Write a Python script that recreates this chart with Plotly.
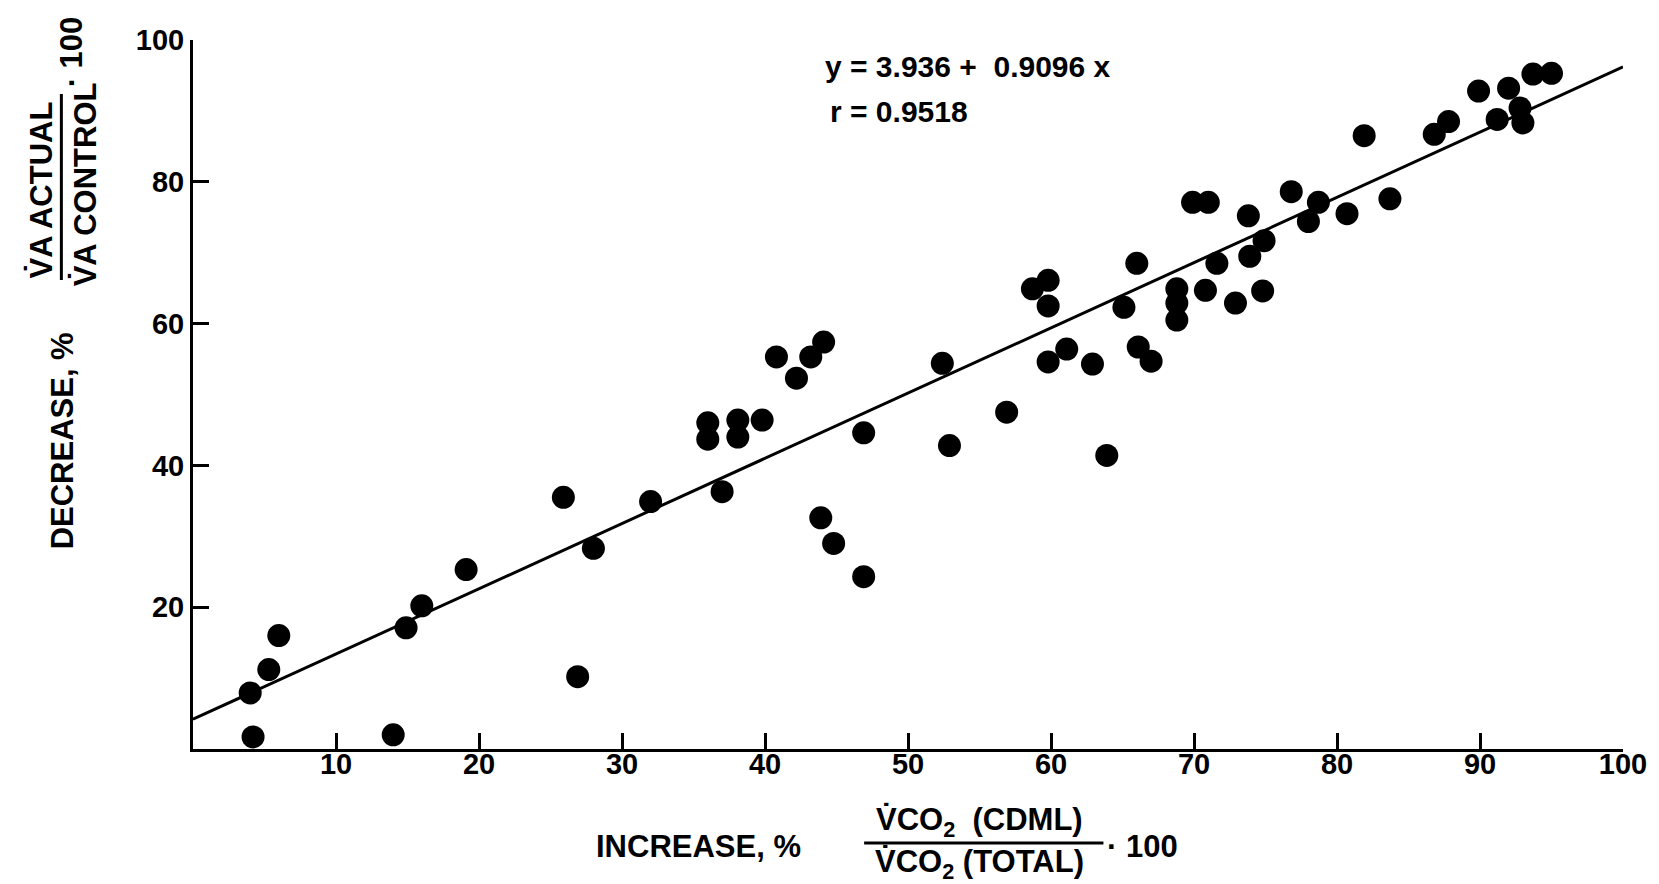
import plotly.graph_objects as go

# ---- data ----
x_increase = [4.0, 4.2, 5.3, 6.0, 14.0, 14.9, 16.0, 19.1, 25.9, 26.9,
              28.0, 32.0, 36.0, 36.0, 37.0, 38.1, 38.1, 39.8, 40.8, 42.2,
              43.2, 44.1, 43.9, 44.8, 46.9, 46.9, 52.4, 52.9, 56.9, 58.7,
              59.8, 59.8, 59.8, 61.1, 62.9, 63.9, 65.1, 66.0, 66.1, 67.0,
              68.8, 68.8, 68.8, 69.9, 71.0, 70.8, 71.6, 72.9, 73.8, 73.9,
              74.9, 74.8, 76.8, 78.0, 78.7, 80.7, 81.9, 83.7, 86.8, 87.8,
              89.9, 91.2, 92.0, 92.8, 93.0, 93.7, 95.0]
y_decrease = [7.9, 1.7, 11.2, 16.0, 2.0, 17.1, 20.2, 25.3, 35.5, 10.2,
              28.3, 34.9, 46.0, 43.7, 36.3, 46.4, 44.0, 46.4, 55.3, 52.3,
              55.3, 57.4, 32.6, 29.0, 44.6, 24.3, 54.4, 42.8, 47.5, 64.9,
              66.1, 62.5, 54.6, 56.4, 54.3, 41.4, 62.3, 68.5, 56.7, 54.7,
              64.9, 62.9, 60.5, 77.1, 77.1, 64.7, 68.5, 62.9, 75.2, 69.5,
              71.7, 64.6, 78.6, 74.4, 77.1, 75.5, 86.5, 77.6, 86.7, 88.5,
              92.8, 88.8, 93.2, 90.4, 88.3, 95.2, 95.3]
intercept = "3.936"
slope = "0.9096"
r_value = "0.9518"
x_ticks = [10, 20, 30, 40, 50, 60, 70, 80, 90, 100]
y_ticks = [20, 40, 60, 80, 100]
# fitted line as drawn in the reference (end points)
line_x = [0, 100]
line_y = [4.2, 96.2]

# ---- layout geometry ----
# the page body has an 8px margin, so the figure starts at (8, 8)
OFF = 8
W, H = 1659 - OFF, 884 - OFF
PLOT_L, PLOT_R, PLOT_T, PLOT_B = 193, 1627, 40, 749  # page pixels
L = PLOT_L - OFF
T = PLOT_T - OFF
R = W - (PLOT_R - OFF)
B = H - (PLOT_B - OFF)


def px(xp):
    return (xp - PLOT_L) / (PLOT_R - PLOT_L)


def py(yp):
    return (PLOT_B - yp) / (PLOT_B - PLOT_T)


FONT = "Liberation Sans, Arial, Helvetica, sans-serif"
TXT = dict(family=FONT, size=31, color="black", weight="bold")
EQ = dict(family=FONT, size=30, color="black", weight="bold")
TICK = dict(family=FONT, size=29, color="black", weight="bold")

fig = go.Figure()
fig.add_trace(go.Scatter(x=line_x, y=line_y, mode="lines",
                         line=dict(color="black", width=3),
                         hoverinfo="skip", showlegend=False, cliponaxis=False))
fig.add_trace(go.Scatter(x=x_increase, y=y_decrease, mode="markers",
                         marker=dict(color="black", size=23),
                         showlegend=False, cliponaxis=False))

axis_common = dict(showline=True, linecolor="black", linewidth=3,
                   ticks="inside", tickcolor="black", tickwidth=3, ticklen=16,
                   showgrid=False, zeroline=False, tickfont=TICK)

fig.update_layout(
    width=W, height=H,
    margin=dict(l=L, r=R, t=T, b=B, pad=0),
    paper_bgcolor="white", plot_bgcolor="white",
    xaxis=dict(range=[0, 100], tickvals=x_ticks, ticklabelstandoff=-13,
               **axis_common),
    yaxis=dict(range=[0, 100], tickvals=y_ticks, **axis_common),
    showlegend=False,
)

ann = []
# equation
ann.append(dict(x=px(825), y=py(66), xref="paper", yref="paper",
                text=f"y = {intercept} +  {slope} x", showarrow=False,
                xanchor="left", yanchor="middle", font=EQ))
ann.append(dict(x=px(830), y=py(112), xref="paper", yref="paper",
                text=f"r = {r_value}", showarrow=False,
                xanchor="left", yanchor="middle", font=EQ))
# x title
ann.append(dict(x=px(700), y=py(846), xref="paper", yref="paper",
                text="INCREASE, %", showarrow=False,
                xanchor="center", yanchor="middle", font=TXT))
ann.append(dict(x=px(982), y=py(822), xref="paper", yref="paper",
                text="V\u0307CO<sub>2</sub>  (CDML)", showarrow=False,
                xanchor="center", yanchor="middle", font=TXT))
ann.append(dict(x=px(982), y=py(864), xref="paper", yref="paper",
                text="V\u0307CO<sub>2</sub> (TOTAL)", showarrow=False,
                xanchor="center", yanchor="middle", font=TXT))
ann.append(dict(x=px(1145), y=py(846), xref="paper", yref="paper",
                text="\u00b7 100", showarrow=False,
                xanchor="center", yanchor="middle", font=TXT))
# y title (rotated)
ann.append(dict(x=px(62), y=py(441), xref="paper", yref="paper",
                text="DECREASE, %", showarrow=False, textangle=-90,
                xanchor="center", yanchor="middle", font=TXT))
ann.append(dict(x=px(40), y=py(190), xref="paper", yref="paper",
                text="V\u0307A ACTUAL", showarrow=False, textangle=-90,
                xanchor="center", yanchor="middle", font=TXT))
ann.append(dict(x=px(84), y=py(184), xref="paper", yref="paper",
                text="V\u0307A CONTROL", showarrow=False, textangle=-90,
                xanchor="center", yanchor="middle", font=TXT))
ann.append(dict(x=px(72), y=py(52), xref="paper", yref="paper",
                text="\u00b7 100", showarrow=False, textangle=-90,
                xanchor="center", yanchor="middle", font=TXT))
fig.update_layout(annotations=ann)

# fraction bars
fig.add_shape(type="line", xref="paper", yref="paper",
              x0=px(866), x1=px(1106), y0=py(843), y1=py(843),
              line=dict(color="black", width=3))
fig.add_shape(type="line", xref="paper", yref="paper",
              x0=px(61), x1=px(61), y0=py(94), y1=py(280),
              line=dict(color="black", width=3))

fig.write_html("out.html")
